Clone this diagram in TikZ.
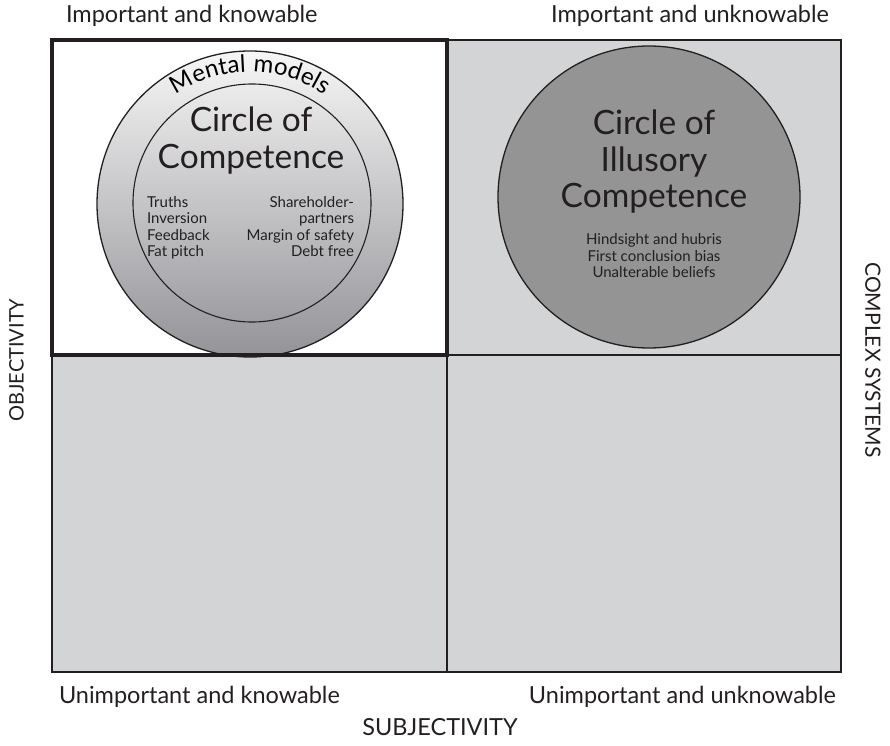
\documentclass[tikz,border=0pt]{standalone}
\usepackage{fontspec}
\setmainfont{Lato}
\usetikzlibrary{decorations.text}
\definecolor{ink}{HTML}{231F20}
\definecolor{quad}{HTML}{D3D4D6}
\definecolor{darkdisc}{HTML}{949494}
\definecolor{shtop}{HTML}{F6F6F6}
\definecolor{shbot}{HTML}{939398}
\tikzset{
  every node/.style={text=ink, inner sep=0pt, outer sep=0pt},
  quadfill/.style={fill=quad},
  thinline/.style={draw=ink, line width=1.6pt},
  thickline/.style={draw=ink, line width=4pt},
  label20/.style={font=\fontsize{23.5}{28}\selectfont},
  sidelabel/.style={font=\fontsize{20}{24}\selectfont},
  big/.style={font=\fontsize{33.5}{40}\selectfont},
  small/.style={font=\fontsize{15}{16.6}\selectfont},
}
\begin{document}
\begin{tikzpicture}[x=1pt,y=1pt]
\useasboundingbox (0,0) rectangle (890,745);
% quadrants
\fill[quadfill] (52,73) rectangle (841,705);
\fill[white] (52,390) rectangle (447,705);
\draw[thinline] (52,73) rectangle (841,705);
\draw[thinline] (447,73) -- (447,705);
\draw[thinline] (52,390) -- (841,390);
% left circle
\node[circle, minimum size=306pt, draw=ink, line width=1.3pt, top color=shtop, bottom color=shbot] (outer) at (250,541) {};
\node[circle, minimum size=238pt, draw=ink, line width=1.1pt] (inner) at (252,542) {};
\path[decorate, decoration={text along path, text align=center,
   text={|\fontsize{24}{24}\selectfont\addfontfeatures{LetterSpace=4}|Mental models}}]
   (250,541) ++(150:132) arc[start angle=150, end angle=30, radius=132];
\node[big, anchor=base] (c1) at (251,613) {Circle of};
\node[big, anchor=base] (c2) at (251,576) {Competence};
\node[small, anchor=base west, align=left] (lst1) at (147,488) {Truths\\Inversion\\Feedback\\Fat pitch};
\node[small, anchor=base east, align=right] (lst2) at (354,488) {Shareholder-\\partners\\Margin of safety\\Debt free};
% right circle
\node[circle, minimum size=302pt, draw=ink, line width=1.3pt, fill=darkdisc] (illu) at (649,548) {};
\node[big, anchor=base] (i1) at (654,610) {Circle of};
\node[big, anchor=base] (i2) at (654,573) {Illusory};
\node[big, anchor=base] (i3) at (654,537) {Competence};
\node[small, anchor=base, align=center] (ilst) at (654,467) {Hindsight and hubris\\First conclusion bias\\Unalterable beliefs};
% thick border top-left
\draw[thickline] (52,390) rectangle (447,705);
% labels
\node[label20, anchor=base west] (tl) at (66,722) {Important and knowable};
\node[label20, anchor=base east] (tr) at (829,722) {Important and unknowable};
\node[label20, anchor=base west] (bl) at (59,42) {Unimportant and knowable};
\node[label20, anchor=base east] (br) at (836,42) {Unimportant and unknowable};
\node[label20, anchor=base] (sub) at (440,10) {SUBJECTIVITY};
\node[sidelabel, rotate=90] (obj) at (16.5,385) {OBJECTIVITY};
\node[sidelabel, font=\fontsize{21}{24}\selectfont, rotate=-90] (cs) at (873,385) {COMPLEX SYSTEMS};
\end{tikzpicture}
\end{document}
